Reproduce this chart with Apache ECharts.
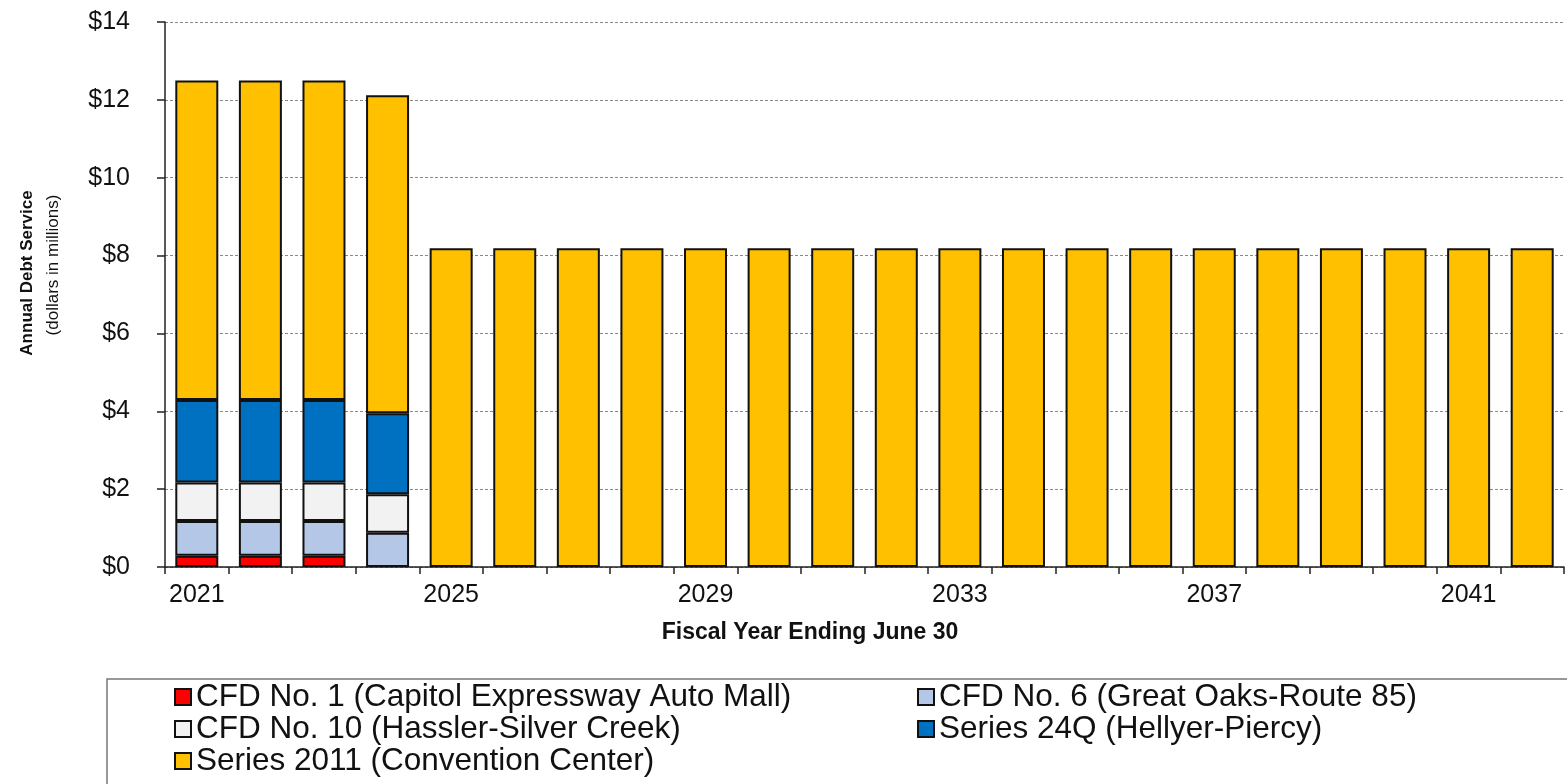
<!DOCTYPE html>
<html>
<head>
<meta charset="utf-8">
<script src="https://cdn.jsdelivr.net/npm/echarts@6/dist/echarts.min.js"></script>
<style>
  html, body { margin: 0; padding: 0; background: #fff; }
  #chart { width: 1567px; height: 784px; }
</style>
</head>
<body>
<div id="chart"></div>
<script>
var years = ['2021','2022','2023','2024','2025','2026','2027','2028','2029','2030','2031',
	'2032','2033','2034','2035','2036','2037','2038','2039','2040','2041','2042'];

// dollars in millions
var cfd1  = [0.29, 0.29, 0.29, 0, 0, 0, 0, 0, 0, 0, 0, 0, 0, 0, 0, 0, 0, 0, 0, 0, 0, 0];
var cfd6  = [0.89, 0.89, 0.89, 0.88, 0, 0, 0, 0, 0, 0, 0, 0, 0, 0, 0, 0, 0, 0, 0, 0, 0, 0];
var cfd10 = [0.99, 0.99, 0.99, 0.99, 0, 0, 0, 0, 0, 0, 0, 0, 0, 0, 0, 0, 0, 0, 0, 0, 0, 0];
var s24q  = [2.12, 2.12, 2.12, 2.08, 0, 0, 0, 0, 0, 0, 0, 0, 0, 0, 0, 0, 0, 0, 0, 0, 0, 0];
var s2011 = [8.21, 8.21, 8.21, 8.17, 8.19, 8.19, 8.19, 8.19, 8.19, 8.19, 8.19,
	8.19, 8.19, 8.19, 8.19, 8.19, 8.19, 8.19, 8.19, 8.19, 8.19, 8.19];

var names = [
	'CFD No. 1 (Capitol Expressway Auto Mall)',
	'CFD No. 6 (Great Oaks-Route 85)',
	'CFD No. 10 (Hassler-Silver Creek)',
	'Series 24Q (Hellyer-Piercy)',
	'Series 2011 (Convention Center)'
];
var colors = ['#ff0000', '#b4c7e7', '#f2f2f2', '#0070c0', '#ffc000'];
var values = [cfd1, cfd6, cfd10, s24q, s2011];

var FONT = 'Liberation Sans, Arial, sans-serif';

var chart = echarts.init(document.getElementById('chart'));

var series = [];
for (var i = 0; i < names.length; i++) {
	series.push({
		name: names[i],
		type: 'bar',
		stack: 'debt',
		barWidth: 43,
		data: values[i].map(function(v) { return v === 0 ? '-' : v; }),
		itemStyle: { color: colors[i], borderColor: '#111', borderWidth: 2 },
		emphasis: { disabled: true }
	});
}

var legendBase = {
	orient: 'vertical',
	icon: 'rect',
	itemWidth: 16,
	itemHeight: 16,
	itemGap: 0,
	top: 681,
	height: 300,
	padding: 0,
	textStyle: { fontFamily: FONT, fontSize: 31.5, color: '#111', lineHeight: 32 }
};

chart.setOption({
	animation: false,
	textStyle: { fontFamily: FONT },
	grid: { left: 165, right: 3, top: 22, bottom: 217 },
	legend: [
		Object.assign({}, legendBase, { left: 174, data: [names[0], names[2], names[4]] }),
		Object.assign({}, legendBase, { left: 917, data: [names[1], names[3]] })
	],
	xAxis: {
		type: 'category',
		data: years,
		axisLine: { lineStyle: { color: '#222', width: 1.5 } },
		axisTick: { show: true, interval: 0, length: 7, lineStyle: { color: '#222', width: 1.5 } },
		axisLabel: { interval: 3, fontSize: 25, color: '#111', margin: 16, fontFamily: FONT }
	},
	yAxis: {
		type: 'value',
		min: 0,
		max: 14,
		interval: 2,
		axisLine: { show: true, lineStyle: { color: '#222', width: 1.5 } },
		axisTick: { show: true, length: 8, lineStyle: { color: '#222', width: 1.5 } },
		axisLabel: { fontSize: 25, color: '#111', margin: 35, fontFamily: FONT,
			formatter: function(v) { return '$' + v; } },
		splitLine: { lineStyle: { color: '#888', type: [3, 2], width: 1 } }
	},
	graphic: [
		{ type: 'text', x: 27, y: 273, rotation: Math.PI / 2,
			style: { text: 'Annual Debt Service', font: 'bold 17px ' + FONT, fill: '#111',
				align: 'center', verticalAlign: 'middle' } },
		{ type: 'text', x: 53, y: 265, rotation: Math.PI / 2,
			style: { text: '(dollars in millions)', font: '17px ' + FONT, fill: '#111',
				align: 'center', verticalAlign: 'middle' } },
		{ type: 'text', x: 810, y: 633,
			style: { text: 'Fiscal Year Ending June 30', font: 'bold 23px ' + FONT, fill: '#111',
				align: 'center', verticalAlign: 'middle' } },
		{ type: 'rect', shape: { x: 107, y: 679, width: 1500, height: 200 },
			style: { fill: 'none', stroke: '#777', lineWidth: 1.5 } }
	],
	series: series
});
</script>
</body>
</html>
